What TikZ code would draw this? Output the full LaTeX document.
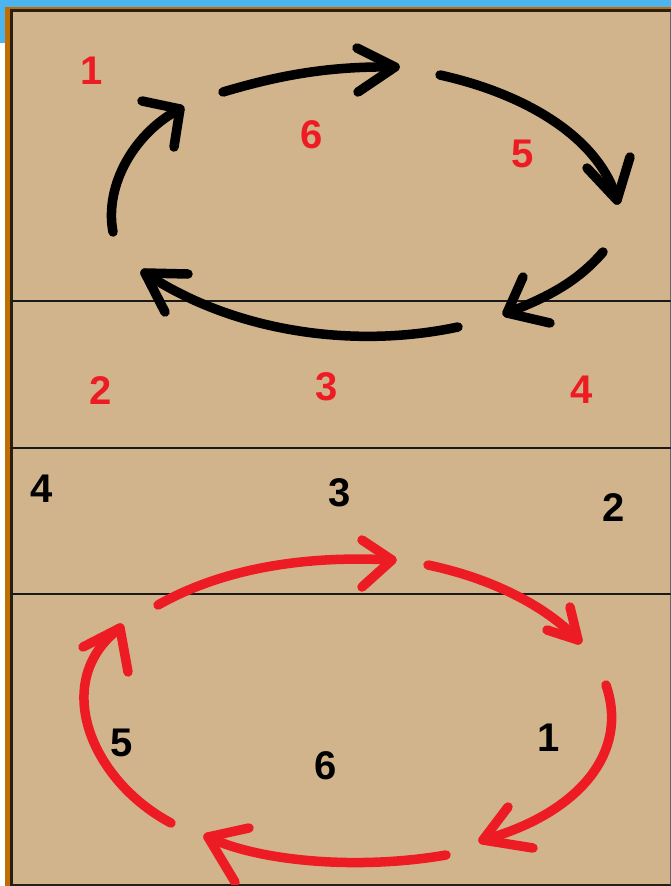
\documentclass[tikz,border=0pt]{standalone}
\usepackage{fontspec}
\setmainfont{Liberation Sans}
\definecolor{bgtan}{RGB}{210,180,140}
\definecolor{skyblue}{RGB}{76,180,238}
\definecolor{rim}{RGB}{192,110,0}
\definecolor{rimdark}{RGB}{40,30,20}
\definecolor{penred}{RGB}{237,28,36}
\begin{document}
\begin{tikzpicture}[x=1pt,y=-1pt,line cap=round,line join=round,
  pen/.style={line width=9.5pt},
  blkpen/.style={pen,black},
  redpen/.style={pen,penred},
  court/.style={line width=2.6pt,black!90},
  num/.style={font=\fontsize{40}{40}\selectfont\bfseries,inner sep=0pt},
  rednum/.style={num,text=penred},
  blknum/.style={num,text=black}]
\useasboundingbox (0,0) rectangle (671,886);
% frame
\fill[white] (0,0) rectangle (671,886);
\fill[skyblue] (0,0) rectangle (671,8);
\fill[skyblue] (0,0) rectangle (5,43);
\fill[rim] (5,7) rectangle (671,886);
\fill[rimdark] (10,9) rectangle (671,886);
\fill[bgtan] (13,12) rectangle (670,884);
\draw[line width=1pt,black!60] (670.5,12) -- (670.5,884);
% court lines
\draw[court] (13,301) -- (670,301);
\draw[court] (13,448) -- (670,448);
\draw[court] (13,594) -- (670,594);
% red labels (top)
\node[rednum] (r1) at (92,71) {1};
\node[rednum] (r6) at (312,135) {6};
\node[rednum] (r5) at (523,154) {5};
\node[rednum] (r2) at (101,391) {2};
\node[rednum] (r3) at (327,387) {3};
\node[rednum] (r4) at (582,390) {4};
% black labels (bottom)
\node[blknum] (b4) at (42,489) {4};
\node[blknum] (b3) at (340,493) {3};
\node[blknum] (b2) at (614,508) {2};
\node[blknum] (b5) at (122,743) {5};
\node[blknum] (b6) at (326,766) {6};
\node[blknum] (b1) at (549,738) {1};
% black arrows (top rotation)
\coordinate (ta) at (180,109);
\draw[blkpen] (113,232) .. controls (104,185) and (135,132) .. (ta);
\draw[blkpen] (142,101) -- (ta) -- (174,147);
\coordinate (tb) at (395,67);
\draw[blkpen] (223,92) .. controls (280,75) and (330,66) .. (tb);
\draw[blkpen] (357,48) -- (tb) -- (358,92);
\coordinate (tc) at (617,200);
\draw[blkpen] (440,75) .. controls (530,95) and (600,140) .. (tc);
\draw[blkpen] (587,168) -- (tc) -- (630,157);
\coordinate (td) at (507,313);
\draw[blkpen] (603,252) .. controls (575,285) and (540,300) .. (td);
\draw[blkpen] (523,277) -- (td) -- (550,323);
\coordinate (te) at (145,273);
\draw[blkpen] (458,327) .. controls (350,350) and (230,330) .. (te);
\draw[blkpen] (188,274) -- (te) -- (165,312);
% red arrows (bottom rotation)
\coordinate (tf) at (392,560);
\draw[redpen] (158,605) .. controls (220,570) and (300,555) .. (tf);
\draw[redpen] (362,540) -- (tf) -- (362,587);
\coordinate (tg) at (578,640);
\draw[redpen] (428,565) .. controls (490,578) and (545,605) .. (tg);
\draw[redpen] (547,630) -- (tg) -- (570,607);
\coordinate (th) at (483,840);
\draw[redpen] (606,685) .. controls (630,755) and (575,815) .. (th);
\draw[redpen] (508,807) -- (th) -- (533,848);
\begin{scope}
\clip (13,12) rectangle (670,884);
\coordinate (ti) at (208,837);
\draw[redpen] (446,855) .. controls (360,870) and (260,862) .. (ti);
\draw[redpen] (249,828) -- (ti) -- (235,882);
\end{scope}
\coordinate (tj) at (120,628);
\draw[redpen] (171,823) .. controls (90,780) and (50,680) .. (tj);
\draw[redpen] (83,647) -- (tj) -- (128,672);
\end{tikzpicture}
\end{document}
